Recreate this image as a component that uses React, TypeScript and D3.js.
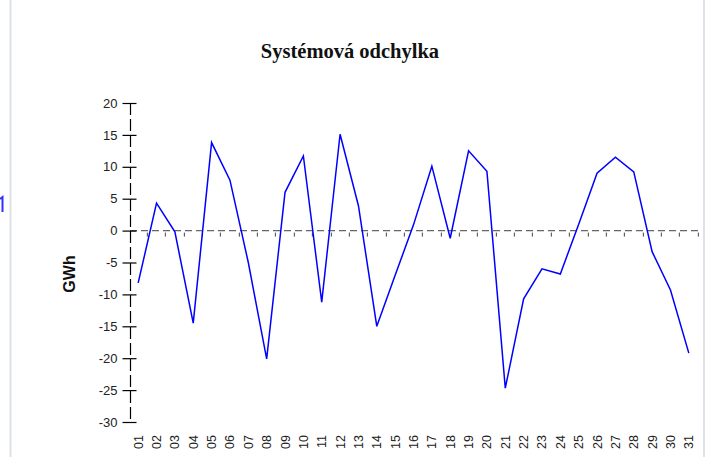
import React, { useEffect, useRef } from 'react';
import * as d3 from 'd3';

const days = ['01', '02', '03', '04', '05', '06', '07', '08', '09', '10', '11', '12', '13', '14', '15', '16', '17', '18', '19', '20', '21', '22', '23', '24', '25', '26', '27', '28', '29', '30', '31'];
const deviation = [-8.2, 4.3, -0.2, -14.5, 13.8, 7.9, -5.0, -20.1, 6.0, 11.7, -11.2, 15.1, 3.9, -15.0, -7.0, 0.9, 10.1, -1.2, 12.5, 9.3, -24.7, -10.7, -6.0, -6.8, 1.0, 9.0, 11.5, 9.2, -3.3, -9.3, -19.2];
const yTicks = [20, 15, 10, 5, 0, -5, -10, -15, -20, -25, -30];

const W = 710;
const H = 457;

const App = () => {
  const ref = useRef<SVGSVGElement>(null);

  useEffect(() => {
    const svg = d3.select(ref.current);
    svg.selectAll('*').remove();

    // frame of the surrounding page
    svg.append('line').attr('x1', 10.5).attr('x2', 10.5).attr('y1', 0).attr('y2', H).attr('stroke', '#dde2ea').attr('stroke-width', 2);
    svg.append('line').attr('x1', 704).attr('x2', 704).attr('y1', 0).attr('y2', H).attr('stroke', '#dde2ea').attr('stroke-width', 2);
    svg.append('path').attr('d', 'M0,199 L2.5,197 L2.5,212').attr('fill', 'none').attr('stroke', '#3030ff').attr('stroke-width', 2);

    const x = d3.scaleBand().domain(days).range([129, 698]).padding(0);
    const y = d3.scaleLinear().domain([-30, 20]).range([422, 103]);
    const cx = (d: string) => (x(d) as number) + x.bandwidth() / 2;

    // title
    svg.append('text')
      .attr('x', 350).attr('y', 58)
      .attr('text-anchor', 'middle')
      .attr('font-family', '"Liberation Serif", "Times New Roman", serif')
      .attr('font-weight', 'bold')
      .attr('font-size', 20.5)
      .attr('fill', '#111')
      .text('Systémová odchylka');

    // zero line with small ticks at band edges
    svg.append('line')
      .attr('x1', 130).attr('x2', 700)
      .attr('y1', y(0)).attr('y2', y(0))
      .attr('stroke', '#666').attr('stroke-width', 1.3)
      .attr('stroke-dasharray', '7,4');
    svg.selectAll('.xtick')
      .data(days)
      .enter()
      .append('line')
      .attr('class', 'xtick')
      .attr('x1', (d) => Math.round(x(d) as number) + x.bandwidth())
      .attr('x2', (d) => Math.round(x(d) as number) + x.bandwidth())
      .attr('y1', y(0) + 2).attr('y2', y(0) + 6)
      .attr('stroke', '#444');

    // y axis
    const yAxis = d3.axisLeft(y).tickValues(yTicks).tickSize(0).tickPadding(13).tickFormat((d) => String(d));
    const gy = svg.append('g').attr('transform', 'translate(130.5,0)').call(yAxis);
    gy.select('.domain').remove();
    gy.selectAll('text')
      .attr('font-family', '"Liberation Sans", Arial, sans-serif')
      .attr('font-size', 13)
      .attr('fill', '#222');
    svg.append('line')
      .attr('x1', 130.5).attr('x2', 130.5)
      .attr('y1', y(20)).attr('y2', y(-30))
      .attr('stroke', '#000').attr('stroke-width', 1.2)
      .attr('stroke-dasharray', '12,4');
    gy.selectAll('.tick')
      .append('line')
      .attr('x1', -8).attr('x2', 6)
      .attr('stroke', '#000').attr('stroke-width', 1.2);

    svg.append('text')
      .attr('transform', `translate(75,274) rotate(-90)`)
      .attr('text-anchor', 'middle')
      .attr('font-family', '"Liberation Sans", Arial, sans-serif')
      .attr('font-weight', 'bold')
      .attr('font-size', 16)
      .attr('fill', '#111')
      .text('GWh');

    // x labels
    svg.selectAll('.xlabel')
      .data(days)
      .enter()
      .append('text')
      .attr('class', 'xlabel')
      .attr('transform', (d) => `translate(${cx(d) + 4.5},435) rotate(-90)`)
      .attr('text-anchor', 'end')
      .attr('font-family', '"Liberation Sans", Arial, sans-serif')
      .attr('font-size', 12.5)
      .attr('fill', '#222')
      .text((d) => d);

    // the series
    const line = d3.line<number>()
      .x((d, i) => cx(days[i]))
      .y((d) => y(d));
    svg.append('path')
      .datum(deviation)
      .attr('d', line)
      .attr('fill', 'none')
      .attr('stroke', '#0000ff')
      .attr('stroke-width', 1.5);
  }, []);

  return (
    <svg
      ref={ref}
      width={W}
      height={H}
      style={{ position: 'absolute', left: 0, top: 0, background: '#fff' }}
    />
  );
};

export default App;
